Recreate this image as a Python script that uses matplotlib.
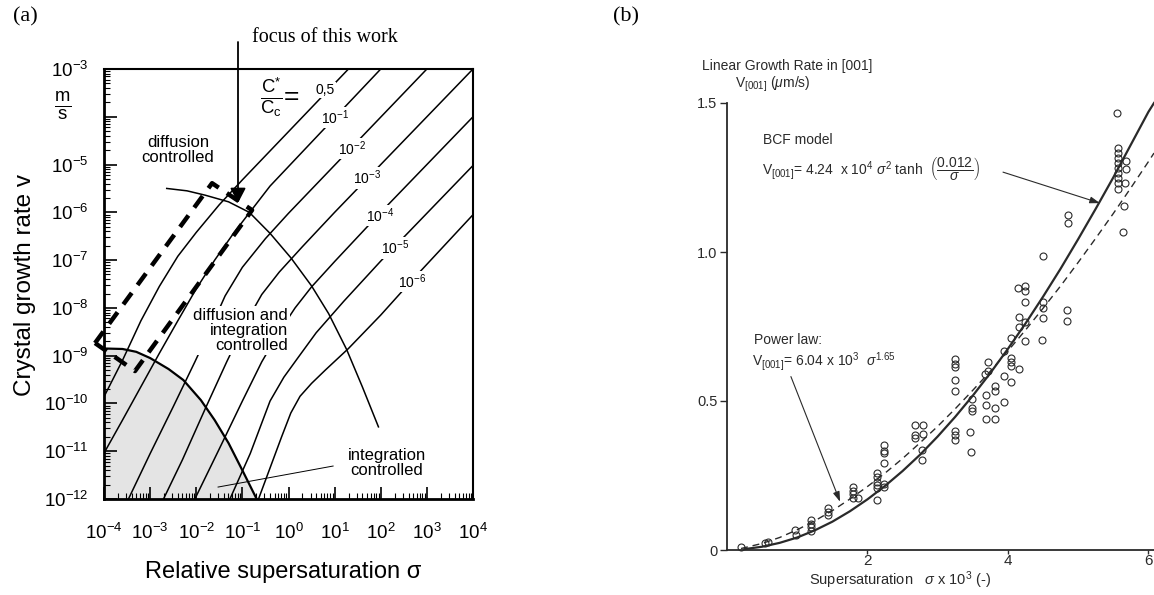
import numpy as np
import matplotlib
matplotlib.use("Agg")
import matplotlib.pyplot as plt
from matplotlib.ticker import FixedLocator, LogLocator, NullFormatter, FixedFormatter

plt.rcParams['font.family'] = ['Liberation Sans', 'DejaVu Sans']
plt.rcParams['mathtext.fontset'] = 'custom'
plt.rcParams['mathtext.rm'] = 'Liberation Sans'
plt.rcParams['mathtext.it'] = 'Liberation Sans:italic'
plt.rcParams['mathtext.bf'] = 'Liberation Sans:bold'
plt.rcParams['mathtext.sf'] = 'Liberation Sans'

# ---------------- Panel (a) data: (log10 sigma, log10 v) ----------------
ratio_labels = ['0,5', r'10$^{-1}$', r'10$^{-2}$', r'10$^{-3}$', r'10$^{-4}$', r'10$^{-5}$', r'10$^{-6}$']
x_tick_labels_a = [r'10$^{-4}$', r'10$^{-3}$', r'10$^{-2}$', r'10$^{-1}$', r'10$^{0}$',
                   r'10$^{1}$', r'10$^{2}$', r'10$^{3}$', r'10$^{4}$']
y_tick_labels_a = [r'10$^{-12}$', r'10$^{-11}$', r'10$^{-10}$', r'10$^{-9}$', r'10$^{-8}$',
                   r'10$^{-7}$', r'10$^{-6}$', r'10$^{-5}$', '', r'10$^{-3}$']

c1_ls = [-4.0, -3.6, -3.2, -2.8, -2.4, -2.0, -1.5, -1.0, 1.3]
c1_lv = [-9.86, -9.10, -8.27, -7.55, -6.92, -6.42, -5.84, -5.32, -3.0]
c2_ls = [-4.0, -3.6, -3.2, -2.8, -2.4, -2.0, -1.6, -1.2, -0.8, -0.4, 2.0]
c2_lv = [-11.04, -10.35, -9.65, -8.95, -8.27, -7.60, -7.00, -6.45, -5.95, -5.45, -3.0]
c3_ls = [-3.47, -3.0, -2.5, -2.03, -1.7, -1.375, -1.0, -0.5, 0.0, 3.0]
c3_lv = [-12.0, -11.05, -10.07, -9.13, -8.45, -7.75, -7.15, -6.55, -6.02, -3.0]
c4_ls = [-2.71, -2.3, -1.8, -1.34, -0.95, -0.58, -0.2, 0.3, 1.0, 4.0]
c4_lv = [-12.0, -11.18, -10.10, -9.13, -8.35, -7.72, -7.25, -6.72, -6.0, -3.0]
c5_ls = [-2.03, -1.5, -1.0, -0.58, -0.2, 0.143, 0.5, 1.0, 2.0, 4.0]
c5_lv = [-12.0, -10.95, -9.95, -9.13, -8.50, -8.0, -7.56, -7.03, -6.0, -4.0]
c6_ls = [-1.27, -0.83, -0.4, -0.1, 0.2, 0.6, 1.2, 2.0, 4.0]
c6_lv = [-12.0, -11.05, -9.95, -9.45, -9.05, -8.52, -7.86, -7.02, -5.02]
c7_ls = [-0.65, -0.4, -0.15, 0.05, 0.25, 0.5, 0.8, 1.3, 2.0, 2.68, 4.0]
c7_lv = [-12.0, -11.35, -10.7, -10.2, -9.85, -9.58, -9.30, -8.85, -8.15, -7.42, -6.05]

# boundary of the shaded (integration controlled) region
gray_ls = [-4.0, -3.6, -3.3, -3.0, -2.6, -2.28, -1.9, -1.6, -1.3, -1.0, -0.69]
gray_lv = [-8.85, -8.86, -8.92, -9.05, -9.28, -9.51, -9.93, -10.35, -10.83, -11.4, -12.0]

# diffusion / mixed boundary arc
arc_ls = [-2.64, -2.2, -1.81, -1.30, -0.85, -0.40, 0.05, 0.5, 0.87, 1.26, 1.6, 1.95]
arc_lv = [-5.50, -5.55, -5.64, -5.78, -6.0, -6.44, -6.95, -7.54, -8.12, -8.87, -9.65, -10.49]

# dashed "focus" box corners
rect_ls = [-4.195, -3.328, -0.79, -1.657, -4.195]
rect_lv = [-8.736, -9.322, -5.954, -5.39, -8.736]

# ---------------- Panel (b) data ----------------
pts_x = [5.56, 5.57, 5.57, 5.57, 5.57, 5.57, 5.57, 5.57, 5.57, 5.57,
         5.68, 5.68, 5.66, 5.65, 5.64, 4.85, 4.85, 4.50, 4.15, 4.25,
         4.25, 4.25, 4.50, 4.50, 4.84, 4.84, 4.16, 4.16, 4.25, 4.50,
         4.05, 4.25, 4.48, 3.95, 4.05, 4.05, 4.05, 4.16, 3.94, 4.05,
         3.72, 3.72, 3.68, 3.82, 3.82, 3.69, 3.69, 3.82, 3.94, 3.69,
         3.82, 3.49, 3.49, 3.49, 3.46, 3.47, 3.25, 3.25, 3.25, 3.25,
         3.25, 3.25, 3.25, 3.25, 2.68, 2.79, 2.68, 2.68, 2.79, 2.78,
         2.78, 2.24, 2.24, 2.23, 2.24, 2.14, 2.14, 2.14, 2.14, 2.14,
         2.23, 2.23, 2.13, 1.80, 1.80, 1.80, 1.80, 1.86, 1.44, 1.44,
         1.44, 1.20, 1.20, 1.20, 1.20, 0.97, 0.98, 0.54, 0.59, 0.20]
pts_y = [1.466, 1.348, 1.331, 1.315, 1.298, 1.281, 1.264, 1.247, 1.230, 1.213,
         1.305, 1.278, 1.233, 1.155, 1.067, 1.124, 1.097, 0.986, 0.878, 0.886,
         0.870, 0.832, 0.832, 0.813, 0.805, 0.769, 0.783, 0.750, 0.765, 0.777,
         0.711, 0.700, 0.705, 0.669, 0.643, 0.630, 0.618, 0.607, 0.585, 0.564,
         0.630, 0.602, 0.590, 0.549, 0.534, 0.519, 0.485, 0.475, 0.497, 0.440,
         0.440, 0.506, 0.477, 0.466, 0.395, 0.328, 0.641, 0.624, 0.613, 0.571,
         0.534, 0.398, 0.387, 0.370, 0.418, 0.421, 0.387, 0.376, 0.390, 0.336,
         0.302, 0.353, 0.331, 0.325, 0.293, 0.257, 0.244, 0.229, 0.218, 0.207,
         0.223, 0.210, 0.169, 0.210, 0.199, 0.187, 0.176, 0.173, 0.141, 0.128,
         0.119, 0.099, 0.088, 0.077, 0.065, 0.068, 0.052, 0.023, 0.026, 0.011]

bcf_x = [0.25, 0.5, 0.75, 1.0, 1.25, 1.5, 1.75, 2.0, 2.25, 2.5, 2.75, 3.0, 3.25,
         3.5, 3.75, 4.0, 4.25, 4.5, 4.75, 5.0, 5.25, 5.5, 5.75, 6.0, 6.08]
bcf_y = [0.003, 0.011, 0.024, 0.042, 0.066, 0.095, 0.130, 0.170, 0.215, 0.265, 0.320,
         0.381, 0.447, 0.518, 0.594, 0.675, 0.760, 0.850, 0.944, 1.043, 1.145, 1.250,
         1.360, 1.470, 1.500]
pow_x = [0.2, 0.5, 0.75, 1.0, 1.25, 1.5, 1.75, 2.0, 2.25, 2.5, 2.75, 3.0, 3.25, 3.5,
         3.75, 4.0, 4.25, 4.5, 4.75, 5.0, 5.25, 5.5, 5.75, 6.0, 6.08]
pow_y = [0.005, 0.022, 0.042, 0.068, 0.098, 0.132, 0.171, 0.213, 0.258, 0.307, 0.360,
         0.415, 0.474, 0.536, 0.600, 0.668, 0.738, 0.811, 0.886, 0.965, 1.046, 1.129,
         1.215, 1.303, 1.332]

W, H = 1154, 595
fig = plt.figure(figsize=(W / 100, H / 100), dpi=100)


def P(x, y):
    return (x / W, 1 - y / H)


def L(a):
    return 10.0 ** np.asarray(a)


# ======================= Panel (a) =======================
axA = fig.add_axes([104 / W, 1 - 499 / H, (473 - 104) / W, (499 - 69) / H])
axA.set_xscale('log')
axA.set_yscale('log')
axA.set_xlim(1e-4, 1e4)
axA.set_ylim(1e-12, 1e-3)

axA.fill_between(L(gray_ls), L(gray_lv), 1e-12, color='#e4e4e4', lw=0, zorder=1)
axA.plot(L(gray_ls), L(gray_lv), color='k', lw=1.6, zorder=3)

curves = [(c1_ls, c1_lv), (c2_ls, c2_lv), (c3_ls, c3_lv), (c4_ls, c4_lv),
          (c5_ls, c5_lv), (c6_ls, c6_lv), (c7_ls, c7_lv)]
for cls, clv in curves:
    axA.plot(L(cls), L(clv), color='k', lw=1.1, zorder=2)

axA.plot(L(arc_ls), L(arc_lv), color='k', lw=1.1, zorder=2)
axA.plot(L(rect_ls), L(rect_lv), color='k', lw=3.2, ls=(0, (3.2, 2.2)),
         dash_capstyle='butt', clip_on=False, zorder=6)

# curve labels (on the asymptotes)
lab_pos = [(0.79, -3.44), (1.01, -4.01), (1.38, -4.66), (1.70, -5.28),
           (1.99, -6.06), (2.31, -6.75), (2.68, -7.45)]
for t, (ls, lv) in zip(ratio_labels, lab_pos):
    axA.text(10 ** ls, 10 ** lv, t, fontsize=10, ha='center', va='center', zorder=7,
             bbox=dict(fc='white', ec='none', pad=1.0))

axA.plot(L([0.967, -1.527]), L([-11.31, -11.75]), color='k', lw=0.7, zorder=4)

axA.xaxis.set_major_locator(FixedLocator(10.0 ** np.arange(-4, 5)))
axA.yaxis.set_major_locator(FixedLocator(10.0 ** np.arange(-12, -2)))
axA.xaxis.set_major_formatter(FixedFormatter(x_tick_labels_a))
axA.yaxis.set_major_formatter(FixedFormatter(y_tick_labels_a))
axA.xaxis.set_minor_locator(LogLocator(base=10, subs=np.arange(2, 10), numticks=100))
axA.yaxis.set_minor_locator(LogLocator(base=10, subs=np.arange(2, 10), numticks=100))
axA.xaxis.set_minor_formatter(NullFormatter())
axA.yaxis.set_minor_formatter(NullFormatter())
axA.tick_params(which='major', direction='in', length=9, width=1.2, labelsize=13.5)
axA.tick_params(which='minor', direction='in', length=4.5, width=0.8)
axA.tick_params(axis='x', which='major', pad=17)
axA.tick_params(axis='y', which='major', pad=11)
for s in ['left', 'bottom']:
    axA.spines[s].set_linewidth(2.0)
for s in ['top', 'right']:
    axA.spines[s].set_linewidth(1.5)

fig.text(*P(25, 285), 'Crystal growth rate v', rotation=90, fontsize=17.5,
         ha='center', va='center')
fig.text(*P(283, 572), 'Relative supersaturation σ', fontsize=17,
         ha='center', va='center')
fig.text(*P(63, 106), r'$\frac{\mathrm{m}}{\mathrm{s}}$', fontsize=19,
         ha='center', va='center')
fig.text(*P(260, 97), r'$\frac{\mathrm{C}^{*}}{\mathrm{C_c}}$=', fontsize=19,
         ha='left', va='center', zorder=8)
fig.text(*P(178, 150), 'diffusion\ncontrolled', fontsize=12, ha='center',
         va='center', linespacing=1.0)
fig.text(*P(288, 330), 'diffusion and\nintegration\ncontrolled', fontsize=12,
         ha='right', va='center', linespacing=1.0, zorder=8,
         bbox=dict(fc='white', ec='none', pad=1.5))
fig.text(*P(387, 463), 'integration\ncontrolled', fontsize=12, ha='center',
         va='center', linespacing=1.0)

fig.text(*P(25, 17), '(a)', fontsize=16, family='Liberation Serif',
         ha='center', va='center')
fig.text(*P(626, 17), '(b)', fontsize=16, family='Liberation Serif',
         ha='center', va='center')
fig.text(*P(252, 38), 'focus of this work', fontsize=14.5, family='Liberation Serif',
         ha='left', va='center')
fig.add_artist(matplotlib.patches.FancyArrowPatch(
    P(238, 42), P(238, 203), transform=fig.transFigure,
    arrowstyle='-|>,head_length=9,head_width=4.7', lw=1.3, color='k',
    shrinkA=0, shrinkB=0, zorder=9))

# ======================= Panel (b) =======================
ink = '#2a2a2a'
axB = fig.add_axes([727 / W, 1 - 550 / H, (1154 - 727) / W, (550 - 103) / H])
axB.set_xlim(0, 6.08)
axB.set_ylim(0, 1.5)
axB.spines['top'].set_visible(False)
axB.spines['right'].set_visible(False)
for s in ['left', 'bottom']:
    axB.spines[s].set_linewidth(1.3)
    axB.spines[s].set_color(ink)

axB.plot(pts_x, pts_y, ls='none', marker='o', ms=5, mfc='none', mec=ink, mew=0.8,
         clip_on=False)
axB.plot(bcf_x, bcf_y, color=ink, lw=1.6, clip_on=False)
axB.plot(pow_x, pow_y, color=ink, lw=1.0, ls=(0, (5, 3.5)), clip_on=False)

axB.set_xticks([2, 4, 6])
axB.set_xticklabels(['2', '4', '6'])
axB.set_yticks([0, 0.5, 1.0, 1.5])
axB.set_yticklabels(['0', '0.5', '1.0', '1.5'])
axB.tick_params(axis='x', direction='out', length=3, width=1.0, labelsize=11, pad=0,
                colors=ink)
axB.tick_params(axis='y', direction='out', length=5, width=1.0, labelsize=10.5, pad=2,
                colors=ink)

fig.text(*P(787, 66), 'Linear Growth Rate in [001]', fontsize=10, ha='center',
         va='center', color=ink)
fig.text(*P(773, 84), r'V$_{[001]}$ ($\mu$m/s)', fontsize=10, ha='center',
         va='center', color=ink)
fig.text(*P(763, 140), 'BCF model', fontsize=10, ha='left', va='center', color=ink)
fig.text(*P(762, 169),
         r'V$_{[001]}$= 4.24  x 10$^{4}$ $\sigma^{2}$ tanh  $\left(\dfrac{0.012}{\sigma}\right)$',
         fontsize=10, ha='left', va='center', color=ink)
fig.text(*P(754, 340), 'Power law:', fontsize=10, ha='left', va='center', color=ink)
fig.text(*P(752, 362), r'V$_{[001]}$= 6.04 x 10$^{3}$  $\sigma^{1.65}$', fontsize=10,
         ha='left', va='center', color=ink)
fig.text(*P(900, 580), r'Supersaturation   $\sigma$ x 10$^{3}$ (-)', fontsize=10.5,
         ha='center', va='center', color=ink)

axB.annotate('', xy=(5.31, 1.164), xytext=(3.93, 1.268),
             arrowprops=dict(arrowstyle='-|>,head_length=0.6,head_width=0.2', lw=0.8,
                             color=ink, shrinkA=0, shrinkB=0))
axB.annotate('', xy=(1.61, 0.162), xytext=(0.91, 0.582),
             arrowprops=dict(arrowstyle='-|>,head_length=0.6,head_width=0.2', lw=0.8,
                             color=ink, shrinkA=0, shrinkB=0))

fig.savefig('out.png', dpi=100)
